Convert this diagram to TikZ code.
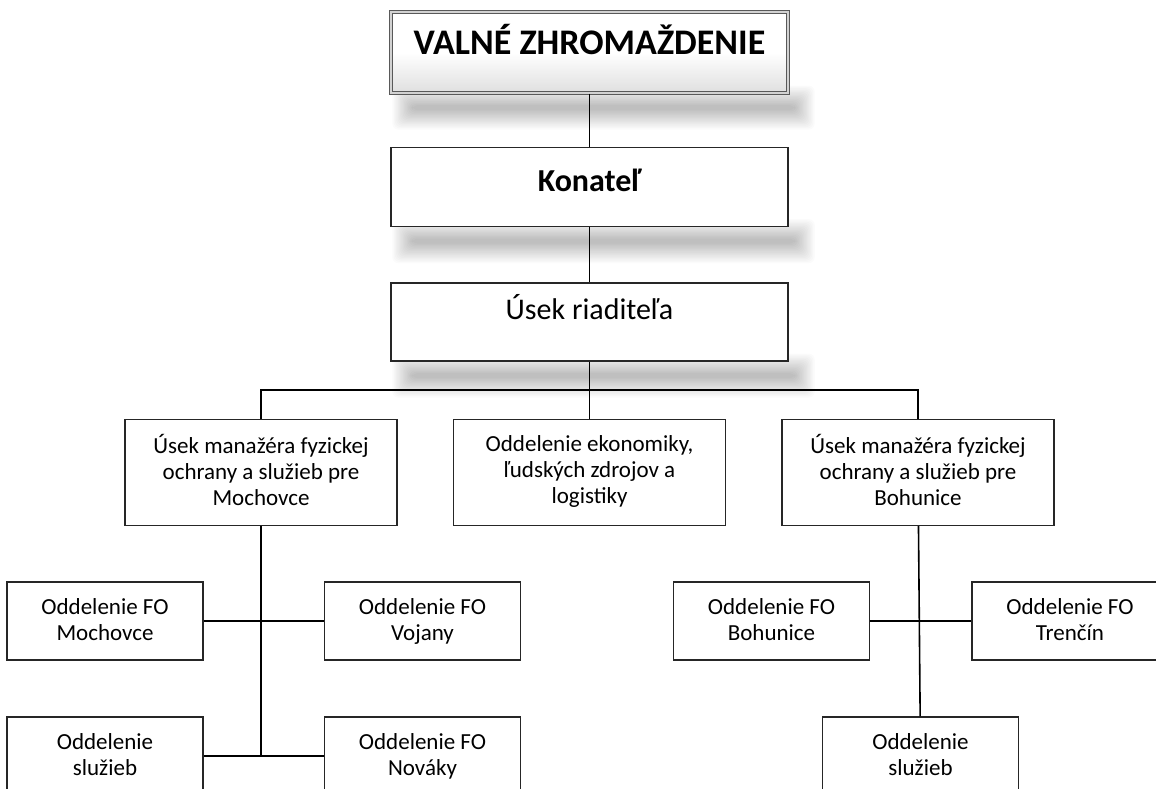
\documentclass[tikz,border=0pt]{standalone}
\usepackage{fontspec}
\setmainfont{Carlito}
\usetikzlibrary{positioning,calc,backgrounds}

\begin{document}
\begin{tikzpicture}[x=1pt,y=-1pt]
\tikzstyle{head} = [rectangle, draw=gray!70!black, line width=1.3pt, double=gray!35, double distance=1.6pt, top color=white, bottom color=gray!25, middle color=white, minimum width=397pt, minimum height=81pt, text centered, font=\bfseries\fontsize{36}{42}\selectfont]
\tikzstyle{chief} = [rectangle, draw=black!85, line width=1.5pt, fill=white, minimum width=397pt, minimum height=79pt, text centered]
\tikzstyle{unit} = [rectangle, draw=black!85, line width=1.5pt, fill=white, minimum width=272pt, minimum height=106pt, align=center, text depth=5pt, font=\fontsize{23}{26}\selectfont]
\tikzstyle{dept} = [rectangle, draw=black!85, line width=1.5pt, fill=white, minimum width=196pt, minimum height=78pt, align=center, text depth=3pt, font=\fontsize{23}{25.5}\selectfont]
\tikzstyle{band} = [fill=black, opacity=0.014, rounded corners=6pt]
\tikzstyle{line} = [draw=black, line width=1.6pt]

\useasboundingbox (0,0) rectangle (1156,789);

\node (ValneZhromazdenie) [head, text height=15pt, text depth=10pt] at (589.5,52.5) {VALNÉ ZHROMAŽDENIE};
\node (Konatel) [chief, below=53pt of ValneZhromazdenie, font=\bfseries\fontsize{32}{38}\selectfont, text height=15pt, text depth=5pt] {Konateľ};
\node (UsekRiaditela) [chief, minimum height=78pt, below=55pt of Konatel, font=\fontsize{30}{36}\selectfont, text height=10pt, text depth=14pt] {Úsek riaditeľa};

\node (OddelenieEkonomiky) [unit, below=57pt of UsekRiaditela] {Oddelenie ekonomiky,\\ľudských zdrojov a\\logistiky};
\node (UsekMochovce) [unit, left=55pt of OddelenieEkonomiky] {Úsek manažéra fyzickej\\ochrany a služieb pre\\Mochovce};
\node (UsekBohunice) [unit, right=55pt of OddelenieEkonomiky] {Úsek manažéra fyzickej\\ochrany a služieb pre\\Bohunice};

\node (FOMochovce) [dept] at (105,621) {Oddelenie FO\\Mochovce};
\node (FOVojany) [dept] at (422.5,621) {Oddelenie FO\\Vojany};
\node (SluzbyMochovce) [dept] at (105,756) {Oddelenie\\služieb};
\node (FONovaky) [dept] at (422.5,756) {Oddelenie FO\\Nováky};

\node (FOBohunice) [dept] at (771.5,621) {Oddelenie FO\\Bohunice};
\node (FOTrencin) [dept] at (1070,621) {Oddelenie FO\\Trenčín};
\node (SluzbyBohunice) [dept] at (920.5,756) {Oddelenie\\služieb};

% soft shadows under the top three boxes
\begin{scope}[on background layer]
\fill [white] (0,0) rectangle (1156,789);
\foreach \boss in {ValneZhromazdenie, Konatel, UsekRiaditela}
  \foreach \k in {0,...,15}
    \fill [band] ($(\boss.south west)+(2+1.3*\k,-8+1.3*\k)$) rectangle ($(\boss.south east)+(26-1.3*\k,36-1.3*\k)$);
\end{scope}

\coordinate (Bus) at (UsekRiaditela.south |- 0,390);
\coordinate (MochovceEnd) at (UsekMochovce.south |- SluzbyMochovce.east);

\draw [line] (ValneZhromazdenie) -- (Konatel);
\draw [line] (Konatel) -- (UsekRiaditela);
\draw [line] (UsekRiaditela) -- (OddelenieEkonomiky);
\draw [line] (UsekMochovce) |- (Bus) -| (UsekBohunice);

\draw [line] (UsekMochovce) -- (MochovceEnd);
\draw [line] (FOMochovce) -- (FOVojany);
\draw [line] (SluzbyMochovce) -- (FONovaky);

\draw [line] (UsekBohunice) -- (SluzbyBohunice);
\draw [line] (FOBohunice) -- (FOTrencin);

\end{tikzpicture}
\end{document}
